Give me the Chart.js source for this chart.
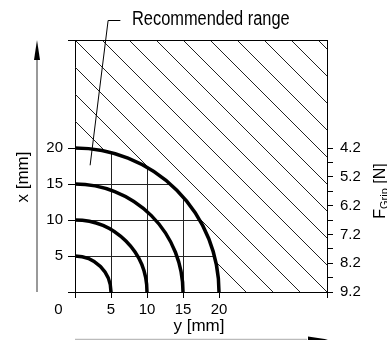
<!DOCTYPE html>
<html>
<head>
<meta charset="utf-8">
<script src="https://cdn.jsdelivr.net/npm/chart.js@4.4.0/dist/chart.umd.min.js"></script>
<style>
    html, body { margin: 0; padding: 0; background: #fff; }
    canvas { display: block; }
</style>
</head>
<body>
<canvas id="graficoPinca" width="387" height="340"></canvas>
<script>
// Raios das curvas (mm)
const raios = [5, 10, 15, 20];
// Ticks do eixo horizontal y [mm] e do eixo vertical x [mm]
const ticksY = [0, 5, 10, 15, 20];
const ticksX = [0, 5, 10, 15, 20];
// Eixo da direita: posição em x [mm] e força de pinça [N]
const posForca = [0, 4, 8, 12, 16, 20];
const rotulosForca = ['9.2', '8.2', '7.2', '6.2', '5.2', '4.2'];
const posForcaMenor = [2, 6, 10, 14, 18];

const limiteEixo = 35;        // fim dos eixos (mm)
const faixaRecomendada = 20;  // raio da faixa recomendada (mm)
const passoHachura = 3.75;    // espaçamento da hachura (mm)

const fonte = 'Liberation Sans';
Chart.defaults.font.family = fonte;
Chart.defaults.color = '#000';

const plugDesenho = {
    id: 'desenhoPinca',
    afterDraw(chart) {
        const { ctx, chartArea: area, scales: { x, y } } = chart;
        const ox = x.getPixelForValue(0);
        const oy = y.getPixelForValue(0);
        const mm = v => x.getPixelForValue(v) - ox;
        const rLim = mm(faixaRecomendada);

        // Hachura fora da faixa recomendada
        ctx.save();
        ctx.beginPath();
        ctx.rect(area.left, area.top, area.width, area.height);
        ctx.clip();
        ctx.beginPath();
        ctx.rect(area.left, area.top, area.width, area.height);
        ctx.moveTo(ox + rLim, oy);
        ctx.arc(ox, oy, rLim, 0, Math.PI * 2);
        ctx.clip('evenodd');
        const passo = mm(passoHachura);
        const h = area.height;
        ctx.strokeStyle = '#222';
        ctx.lineWidth = 1;
        ctx.beginPath();
        for (let k = -Math.ceil(h / passo); k <= Math.ceil(area.width / passo); k++) {
            const c = k * passo;
            ctx.moveTo(area.left + c, area.top);
            ctx.lineTo(area.left + c + h, area.top + h);
        }
        ctx.stroke();
        ctx.restore();

        // Grade dentro da faixa
        ctx.save();
        ctx.beginPath();
        ctx.arc(ox, oy, rLim, 0, Math.PI * 2);
        ctx.clip();
        ctx.strokeStyle = '#222';
        ctx.lineWidth = 1;
        ctx.beginPath();
        ticksY.filter(v => v > 0 && v < faixaRecomendada).forEach(v => {
            const gx = Math.round(x.getPixelForValue(v)) + 0.5;
            ctx.moveTo(gx, oy);
            ctx.lineTo(gx, oy - rLim);
        });
        ticksX.filter(v => v > 0 && v < faixaRecomendada).forEach(v => {
            const gy = Math.round(y.getPixelForValue(v)) + 0.5;
            ctx.moveTo(ox, gy);
            ctx.lineTo(ox + rLim, gy);
        });
        ctx.stroke();
        ctx.restore();

        // Curvas
        ctx.save();
        ctx.strokeStyle = '#000';
        ctx.lineWidth = 3.5;
        raios.forEach(r => {
            ctx.beginPath();
            ctx.arc(ox, oy, mm(r), -Math.PI / 2, 0);
            ctx.stroke();
        });

        // Borda superior
        ctx.lineWidth = 1;
        ctx.beginPath();
        ctx.moveTo(area.left, Math.round(area.top) + 0.5);
        ctx.lineTo(area.right, Math.round(area.top) + 0.5);
        ctx.stroke();

        // Seta vertical (x)
        ctx.strokeStyle = '#777';
        ctx.lineWidth = 1.5;
        ctx.beginPath();
        ctx.moveTo(37, 58);
        ctx.lineTo(37, area.bottom);
        ctx.stroke();
        ctx.fillStyle = '#000';
        ctx.beginPath();
        ctx.moveTo(37, area.top);
        ctx.lineTo(40, area.top + 20);
        ctx.lineTo(34, area.top + 20);
        ctx.closePath();
        ctx.fill();

        // Seta horizontal (y)
        ctx.strokeStyle = '#bbb';
        ctx.beginPath();
        ctx.moveTo(area.left, 339.5);
        ctx.lineTo(area.right - 20, 339.5);
        ctx.stroke();
        ctx.beginPath();
        ctx.moveTo(area.right + 1, 339.5);
        ctx.lineTo(area.right - 19, 336.5);
        ctx.lineTo(area.right - 19, 342.5);
        ctx.closePath();
        ctx.fill();

        // Linha de chamada
        ctx.strokeStyle = '#000';
        ctx.lineWidth = 1;
        ctx.beginPath();
        ctx.moveTo(x.getPixelForValue(2.1), y.getPixelForValue(17.6));
        ctx.lineTo(x.getPixelForValue(4.6), 20.5);
        ctx.lineTo(x.getPixelForValue(6.3), 20.5);
        ctx.stroke();

        // Textos
        ctx.fillStyle = '#000';
        ctx.textBaseline = 'alphabetic';
        ctx.save();
        ctx.translate(132, 25);
        ctx.scale(0.82, 1);
        ctx.font = '20px "' + fonte + '"';
        ctx.textAlign = 'left';
        ctx.fillText('Recommended range', 0, 0);
        ctx.restore();

        ctx.font = '15px "' + fonte + '"';
        ctx.textAlign = 'center';
        ctx.fillText('0', 58.5, 313.5);

        ctx.font = '17px "' + fonte + '"';
        ctx.fillText('y [mm]', 199, 331);

        ctx.save();
        ctx.translate(28, 177);
        ctx.rotate(-Math.PI / 2);
        ctx.fillText('x [mm]', 0, 0);
        ctx.restore();

        // F_Grip [N]
        ctx.save();
        ctx.translate(385, 191);
        ctx.rotate(-Math.PI / 2);
        ctx.textAlign = 'left';
        const fGrande = '16px "' + fonte + '"';
        const fSub = '11px "' + fonte + '"';
        ctx.font = fGrande;
        const wF = ctx.measureText('F').width;
        const wN = ctx.measureText(' [N]').width;
        ctx.font = fSub;
        const wSub = ctx.measureText('Grip').width;
        let px0 = -(wF + wSub + wN) / 2;
        ctx.font = fGrande;
        ctx.fillText('F', px0, 0);
        ctx.font = fSub;
        ctx.fillText('Grip', px0 + wF, 3);
        ctx.font = fGrande;
        ctx.fillText(' [N]', px0 + wF + wSub, 0);
        ctx.restore();

        ctx.restore();
    }
};

const eixoBase = {
    type: 'linear',
    min: 0,
    max: limiteEixo,
    border: { display: true, color: '#000', width: 1 },
    grid: { drawOnChartArea: false, drawTicks: true, color: '#000', lineWidth: 1 }
};

new Chart(document.getElementById('graficoPinca').getContext('2d'), {
    type: 'scatter',
    data: { datasets: [] },
    options: {
        responsive: false,
        animation: false,
        layout: { padding: { top: 40 } },
        plugins: { legend: { display: false }, tooltip: { enabled: false } },
        scales: {
            x: {
                ...eixoBase,
                position: 'bottom',
                grid: { ...eixoBase.grid, tickLength: 6 },
                afterBuildTicks: s => { s.ticks = ticksY.concat([limiteEixo]).map(v => ({ value: v })); },
                afterFit: s => { s.height = 48; },
                ticks: {
                    autoSkip: false,
                    maxRotation: 0,
                    padding: 3,
                    font: { size: 15 },
                    callback: v => (v === 0 || v === limiteEixo) ? '' : String(v)
                }
            },
            y: {
                ...eixoBase,
                position: 'left',
                grid: { ...eixoBase.grid, tickLength: 7 },
                afterBuildTicks: s => { s.ticks = ticksX.concat([limiteEixo]).map(v => ({ value: v })); },
                afterFit: s => { s.width = 75; },
                ticks: {
                    autoSkip: false,
                    padding: 5,
                    font: { size: 15 },
                    callback: v => (v === 0 || v === limiteEixo) ? '' : String(v)
                }
            },
            forca: {
                ...eixoBase,
                position: 'right',
                grid: { ...eixoBase.grid, tickLength: 6 },
                afterBuildTicks: s => {
                    s.ticks = posForca.concat(posForcaMenor).sort((a, b) => a - b).map(v => ({ value: v }));
                },
                afterFit: s => { s.width = 60; },
                ticks: {
                    autoSkip: false,
                    padding: 7,
                    font: { size: 15 },
                    callback: v => {
                        const i = posForca.indexOf(v);
                        return i >= 0 ? rotulosForca[i] : '';
                    }
                }
            }
        }
    },
    plugins: [plugDesenho]
});
</script>
</body>
</html>
